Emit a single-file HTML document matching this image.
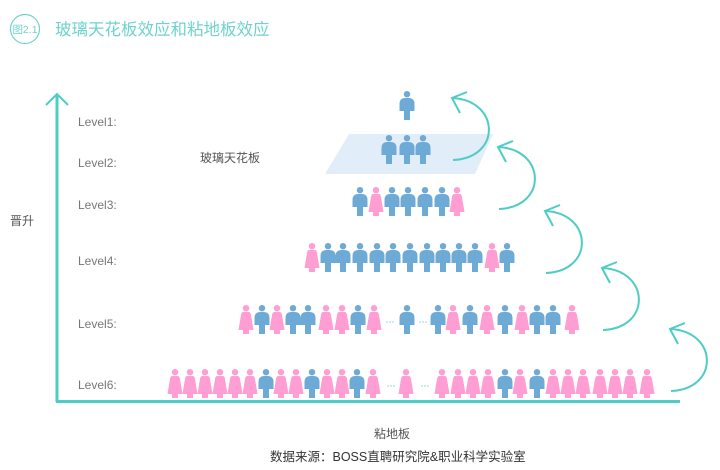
<!DOCTYPE html>
<html><head><meta charset="utf-8">
<style>
html,body{margin:0;padding:0;background:#fff;}
body{width:720px;height:470px;overflow:hidden;position:relative;font-family:"Liberation Sans","Noto Sans CJK SC",sans-serif;}
.t{position:absolute;white-space:nowrap;color:#777;font-size:12px;line-height:14px;}
</style></head><body>
<svg id="s" width="720" height="470" viewBox="0 0 720 470" style="position:absolute;left:0;top:0">
<defs>
<symbol id="m" viewBox="0 0 15 29" overflow="visible">
<circle cx="7.5" cy="3.2" r="3.2"/>
<path d="M0,13 Q0,7 6,7 L9,7 Q15,7 15,13 L15,20 L10.5,20 L10.5,29 L4.5,29 L4.5,20 L0,20 Z"/>
</symbol>
<symbol id="f" viewBox="0 0 15 29" overflow="visible">
<circle cx="7.5" cy="3.2" r="3.2"/>
<path d="M4.5,7 L10.5,7 Q12,7 12.5,10 L15,25 L10.5,25 L10.5,29 L4.5,29 L4.5,25 L0,25 L2.5,10 Q3,7 4.5,7 Z"/>
</symbol>
</defs>
<circle cx="25" cy="29" r="14.5" fill="none" stroke="#6fd3cb" stroke-width="1.2"/>
<text x="25" y="33" text-anchor="middle" font-size="10.5" fill="#6fd3cb" font-family="Liberation Sans,Noto Sans CJK SC,sans-serif">图2.1</text>
<text x="55" y="35" font-size="16.5" fill="#6fd3cb" font-family="Liberation Sans,Noto Sans CJK SC,sans-serif">玻璃天花板效应和粘地板效应</text>
<polygon points="349,134 493,134 475,174 325,174" fill="#e1edf8"/>
<g stroke="#4ecdc4" stroke-width="3" fill="none">
<line x1="57" y1="95" x2="57" y2="402"/>
<line x1="56" y1="401.5" x2="680" y2="401.5"/>
</g>
<polyline points="46,105 57,94 68,105" stroke="#4ecdc4" stroke-width="2" fill="none"/>
<g id="arrows" stroke="#4ecdc4" stroke-width="2" fill="none"></g>
<g id="people"></g>
</svg>
<div class="t" style="left:78px;top:115px">Level1:</div>
<div class="t" style="left:78px;top:156px">Level2:</div>
<div class="t" style="left:78px;top:198px">Level3:</div>
<div class="t" style="left:78px;top:254px">Level4:</div>
<div class="t" style="left:78px;top:317px">Level5:</div>
<div class="t" style="left:78px;top:378px">Level6:</div>
<div class="t" style="left:10px;top:214px;color:#555">晋升</div>
<div class="t" style="left:200px;top:151px;color:#555">玻璃天花板</div>
<div class="t" style="left:374px;top:427px;color:#555">粘地板</div>
<div class="t" style="left:270px;top:450px;color:#333;font-size:12.5px">数据来源：BOSS直聘研究院&amp;职业科学实验室</div>
<script>
var NS="http://www.w3.org/2000/svg";
var A=[[452,98],[498,147],[545,211],[602,268],[670,329]];
var ag=document.getElementById("arrows");
A.forEach(function(a){var x=a[0],y=a[1];
var p=document.createElementNS(NS,"path");
p.setAttribute("d","M"+(x+1)+","+(y+62)+" C"+(x+50)+","+(y+60)+" "+(x+48)+","+(y+2)+" "+x+","+y);
ag.appendChild(p);
var q=document.createElementNS(NS,"polyline");
q.setAttribute("points",(x+15)+","+(y-6)+" "+x+","+y+" "+(x+8)+","+(y+15));
ag.appendChild(q);});
var pg=document.getElementById("people");
function row(bottom,items){items.forEach(function(it){var cx=it[0],t=it[1];
if(t=="d"){for(var i=0;i<3;i++){var c=document.createElementNS(NS,"circle");c.setAttribute("cx",cx-3+i*3);c.setAttribute("cy",bottom-12);c.setAttribute("r",0.8);c.setAttribute("fill","#8fd9d3");pg.appendChild(c);}return;}
var u=document.createElementNS(NS,"use");u.setAttribute("href","#"+(t=="P"?"f":"m"));
u.setAttribute("x",cx-7.5);u.setAttribute("y",bottom-29);u.setAttribute("width",15);u.setAttribute("height",29);
u.setAttribute("fill",t=="P"?"#ff9ed2":"#6eaad6");pg.appendChild(u);});}
function mk(cs,pat){return cs.map(function(c,i){return [c,pat[i]];});}
row(120,[[407,"B"]]);
row(164,mk([389,407,423],"BBB"));
row(216,mk([360,376,392,408,425,442,457],"BPBBBBP"));
row(272,mk([312,328,343,360,377,393,410,427,443,459,475,492,507],"PBBBBBBBBBBPB"));
row(334,mk([246,262,277,293,308,326,342,358,374,390,407,423,438,453,470,487,505,522,537,553,572],"PBPBBPPBPdBdBPBPBPBBP"));
row(398,mk([175,190,205,220,235,250,266,281,296,312,327,342,357,373,391,406,425,442,458,473,488,505,520,537,553,568,583,600,615,630,647],"PPPPPPBPPBPPBPdPdPPPPBPBPPPPPPP"));
</script>
</body></html>
